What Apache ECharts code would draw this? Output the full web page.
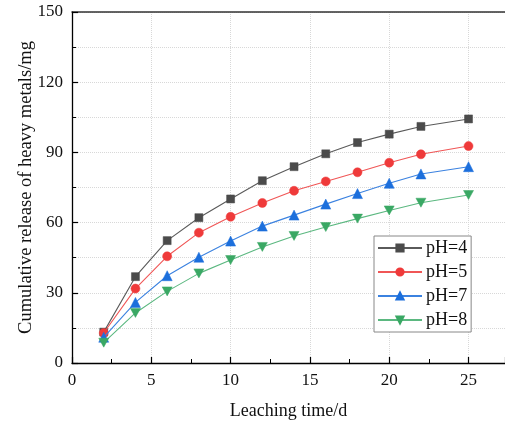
<!DOCTYPE html>
<html>
<head>
<meta charset="utf-8">
<script src="https://cdn.jsdelivr.net/npm/echarts@6/dist/echarts.min.js"></script>
<style>html,body{margin:0;padding:0;background:#fff}#c{width:505px;height:421px}</style>
</head>
<body>
<div id="c"></div>
<script>
const days = [2, 4, 6, 8, 10, 12, 14, 16, 18, 20, 22, 25];
const pH4 = [13.2, 36.9, 52.3, 62.1, 70.1, 77.9, 83.9, 89.4, 94.2, 97.8, 101.1, 104.3];
const pH5 = [12.8, 31.8, 45.6, 55.7, 62.5, 68.4, 73.6, 77.6, 81.5, 85.6, 89.2, 92.7];
const pH7 = [11.0, 25.9, 37.3, 45.2, 52.1, 58.5, 63.2, 67.9, 72.4, 76.8, 80.8, 83.9];
const pH8 = [8.7, 21.4, 30.6, 38.3, 44.0, 49.6, 54.3, 58.1, 61.7, 65.2, 68.5, 71.8];
const seriesNames = ['pH=4', 'pH=5', 'pH=7', 'pH=8'];
const xTicks = [0, 5, 10, 15, 20, 25];
const yTicks = [0, 30, 60, 90, 120, 150];

const font = '"Liberation Serif","Times New Roman",serif';
const chart = echarts.init(document.getElementById('c'), null, {renderer: 'canvas'});
function pts(v) { return days.map((d, i) => [d, v[i]]); }
const defs = [
  {data: pH4, color: '#4b4b4b', line: '#5a5a5a', symbol: 'rect', size: 8},
  {data: pH5, color: '#ef3a3a', line: '#f05656', symbol: 'circle', size: 9},
  {data: pH7, color: '#1c6fdc', line: '#3b82e0', symbol: 'triangle', size: 10},
  {data: pH8, color: '#3aa864', line: '#5bb880', symbol: 'path://M0,0 L10,0 L5,9 Z', size: [10, 9]}
];
const XMAX = 27.3;
chart.setOption({
  animation: false,
  backgroundColor: '#fff',
  grid: {left: 72, top: 12, right: 0, bottom: 58, outerBoundsMode: 'none', containLabel: false},
  legend: {
    left: 374, top: 236, orient: 'vertical',
    padding: [3, 4, 3, 3],
    itemWidth: 44, itemHeight: 9, itemGap: 6,
    borderColor: '#888', borderWidth: 1, backgroundColor: '#fff',
    textStyle: {fontFamily: font, fontSize: 18, color: '#111', padding: [0, 0, 0, -1]},
    data: seriesNames
  },
  xAxis: [{
    type: 'value', min: 0, max: XMAX, interval: 5,
    name: 'Leaching time/d', nameLocation: 'middle', nameGap: 39, nameMoveOverlap: false,
    nameTextStyle: {fontFamily: font, fontSize: 18, color: '#111'},
    axisLine: {show: true, lineStyle: {color: '#000', width: 1.3}},
    axisTick: {show: true, inside: true, length: 6, lineStyle: {color: '#000', width: 1.2}},
    minorTick: {show: true, splitNumber: 2, length: 4, lineStyle: {color: '#000', width: 1}},
    axisLabel: {fontFamily: font, fontSize: 17, color: '#111', margin: 9, showMaxLabel: false,
      formatter: v => xTicks.indexOf(v) >= 0 ? String(v) : ''},
    splitLine: {show: true, lineStyle: {color: '#d8d8d8', type: 'dotted', width: 1}}
  }, {
    type: 'value', position: 'top', min: 0, max: XMAX,
    axisLine: {show: true, onZero: false, lineStyle: {color: '#333', width: 1.5}},
    axisTick: {show: false}, axisLabel: {show: false}, splitLine: {show: false}
  }],
  yAxis: {
    type: 'value', min: 0, max: 150, interval: 30,
    name: 'Cumulative release of heavy metals/mg', nameLocation: 'middle', nameGap: 36, nameMoveOverlap: false,
    nameTextStyle: {fontFamily: font, fontSize: 18.5, color: '#111'},
    axisLine: {show: true, lineStyle: {color: '#000', width: 1.3}},
    axisTick: {show: true, inside: true, length: 6, lineStyle: {color: '#000', width: 1.2}},
    minorTick: {show: true, splitNumber: 2, length: 4, lineStyle: {color: '#000', width: 1}},
    minorSplitLine: {show: true, lineStyle: {color: '#d8d8d8', type: 'dotted', width: 1}},
    axisLabel: {fontFamily: font, fontSize: 17, color: '#111', margin: 9,
      formatter: v => yTicks.indexOf(v) >= 0 ? String(v) : ''},
    splitLine: {show: true, lineStyle: {color: '#d8d8d8', type: 'dotted', width: 1}}
  },
  series: defs.map((d, i) => ({
    name: seriesNames[i], type: 'line', data: pts(d.data), xAxisIndex: 0,
    symbol: d.symbol, symbolSize: d.size, showAllSymbol: true,
    itemStyle: {color: d.color, borderColor: d.color, borderWidth: 0.5},
    lineStyle: {color: d.line, width: 1.1},
    emphasis: {disabled: true}, z: 3 + i
  }))
});
</script>
</body>
</html>
